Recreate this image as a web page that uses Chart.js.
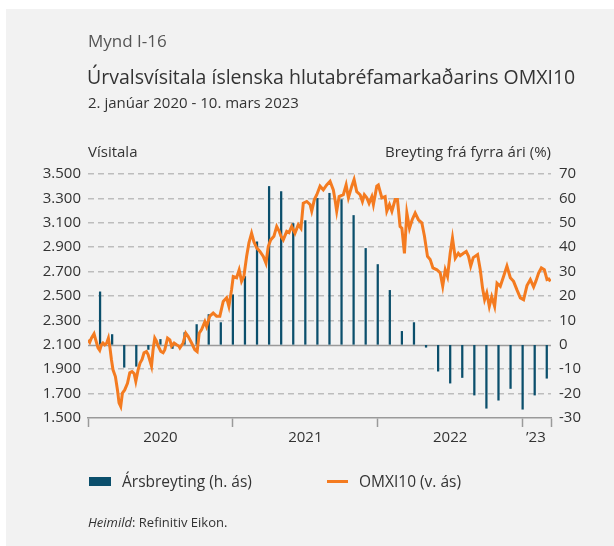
<!DOCTYPE html>
<html>
<head>
<meta charset="utf-8">
<script src="https://cdn.jsdelivr.net/npm/chart.js@4"></script>
<style>
    body { margin: 0; background: #fff; font-family: 'Open Sans', sans-serif; color: #333; }
    #wrap { position: relative; width: 614px; height: 546px; overflow: hidden; }
    #panel { position: absolute; left: 6px; top: 9px; width: 608px; height: 537px; background: #f2f2f2; }
    canvas { position: absolute; left: 0; top: 0; }
    .txt { position: absolute; white-space: nowrap; }
</style>
</head>
<body>
<div id="wrap">
    <div id="panel"></div>
    <canvas id="chart" width="614" height="546"></canvas>
    <div class="txt" style="left:88px; top:29px; font-size:17px; color:#555;">Mynd I-16</div>
    <div class="txt" style="left:87px; top:63px; font-size:19.5px; color:#333;">Úrvalsvísitala íslenska hlutabréfamarkaðarins OMXI10</div>
    <div class="txt" style="left:88px; top:92px; font-size:15px; color:#333;">2. janúar 2020 - 10. mars 2023</div>
    <div class="txt" style="left:88px; top:141px; font-size:15px; color:#333;">Vísitala</div>
    <div class="txt" style="right:63px; top:141px; font-size:15px; color:#333;">Breyting frá fyrra ári (%)</div>

    <div class="txt" style="left:89px; top:477px; width:22px; height:9px; background:#0b4f6c;"></div>
    <div class="txt" style="left:122px; top:470px; font-size:15.5px; color:#333;">Ársbreyting (h. ás)</div>
    <div class="txt" style="left:327px; top:480px; width:21px; height:3px; background:#f47b20;"></div>
    <div class="txt" style="left:359px; top:470px; font-size:15.5px; color:#333;">OMXI10 (v. ás)</div>

    <div class="txt" style="left:88px; top:513px; font-size:13px; color:#333;"><i>Heimild</i>: Refinitiv Eikon.</div>
</div>
<script>
// month-end labels for the yearly change bars (right axis, %)
var barMonths = ['2020-01','2020-02','2020-03','2020-04','2020-05','2020-06','2020-07','2020-08','2020-09','2020-10','2020-11','2020-12',
    '2021-01','2021-02','2021-03','2021-04','2021-05','2021-06','2021-07','2021-08','2021-09','2021-10','2021-11','2021-12',
    '2022-01','2022-02','2022-03','2022-04','2022-05','2022-06','2022-07','2022-08','2022-09','2022-10','2022-11','2022-12',
    '2023-01','2023-02'];
var barValues = [21.7, 4.2, -9.2, -8.8, -1.9, 2.2, -1.5, 5.0, 8.3, 12.4, 9.1, 20.5,
    28.0, 42.2, 64.9, 62.8, 49.7, 50.9, 60.0, 62.1, 59.5, 53.0, 39.5, 32.9,
    22.3, 5.5, 9.1, -1.0, -10.8, -15.7, -13.4, -20.6, -26.0, -22.7, -17.9, -26.4,
    -20.6, -13.7];

// OMXI10 index (left axis); time in months since 1 Jan 2020
var omxTime = [0.00,0.14,0.28,0.50,0.64,0.83,0.97,1.11,1.24,1.39,1.55,1.69,1.82,1.94,2.07,2.27,2.44,2.57,2.71,2.85,
    3.04,3.27,3.46,3.65,3.82,3.96,4.15,4.31,4.48,4.64,4.84,4.98,5.26,5.39,5.53,5.67,5.81,6.03,6.22,6.36,
    6.59,6.78,6.92,7.13,7.33,7.52,7.61,7.88,8.10,8.29,8.58,8.85,9.04,9.21,9.41,9.68,9.82,10.09,10.37,10.65,
    10.92,11.20,11.48,11.67,11.89,12.03,12.31,12.52,12.72,12.91,13.14,13.33,13.55,13.74,13.97,14.24,14.52,14.74,14.93,15.13,
    15.40,15.63,15.84,15.98,16.17,16.46,16.65,16.87,17.14,17.42,17.64,17.83,18.12,18.39,18.53,18.75,18.95,19.22,19.49,19.77,
    20.05,20.32,20.46,20.60,20.80,21.15,21.38,21.57,21.85,22.04,22.26,22.54,22.73,22.89,23.09,23.28,23.51,23.64,23.92,24.05,
    24.34,24.61,24.75,24.97,25.17,25.44,25.63,25.85,26.00,26.21,26.41,26.63,26.85,27.10,27.37,27.65,27.87,28.12,28.34,28.57,
    28.90,29.17,29.38,29.59,29.78,30.00,30.19,30.42,30.67,30.83,31.10,31.33,31.52,31.70,31.91,32.27,32.49,32.68,32.85,33.03,
    33.24,33.44,33.68,33.88,34.15,34.42,34.70,34.98,35.25,35.53,35.81,36.08,36.36,36.64,36.91,37.09,37.33,37.55,37.80,38.02,
    38.17,38.30];
var omxValues = [2140,2120,2155,2190,2140,2075,2055,2100,2115,2100,2115,2155,2075,1980,1895,1840,1730,1625,1595,1705,
    1730,1785,1870,1880,1865,1800,1895,1950,1980,2035,2045,2020,1925,2060,2155,2130,2090,2045,2035,2060,
    2155,2140,2090,2115,2100,2090,2075,2115,2195,2170,2115,2060,2045,2195,2225,2290,2250,2335,2360,2335,
    2335,2455,2485,2415,2550,2660,2650,2715,2620,2660,2825,2935,3015,2945,2895,2865,2825,2770,2905,2960,
    2990,3070,3030,2990,2960,3030,3020,3070,3015,3085,3055,3260,3275,3250,3195,3290,3330,3400,3370,3410,
    3440,3370,3290,3195,3315,3330,3410,3305,3400,3455,3355,3330,3275,3330,3305,3260,3315,3250,3400,3410,
    3305,3315,3195,3250,3195,3290,3290,3070,3055,2850,3180,3055,3125,3180,3125,3100,2990,2825,2800,2730,
    2715,2690,2580,2715,2660,2850,2975,2810,2850,2830,2850,2865,2825,2745,2815,2840,2715,2565,2470,2525,
    2415,2495,2415,2605,2580,2660,2745,2650,2620,2550,2485,2470,2585,2635,2575,2620,2690,2730,2715,2635,
    2640,2620];

var yearTicks = [0, 12, 24, 36, 38.35];
var yearLabels = {6: '2020', 18: '2021', 30: '2022', 37.1: '\u201923'};

var lineData = omxTime.map((t, i) => ({ x: t, y: omxValues[i] }));
var barData = barValues.map((v, i) => ({ x: i + 1, y: v }));

var zeroLine = {
    id: 'zeroLine',
    beforeDatasetsDraw(chart) {
        var ctx = chart.ctx, a = chart.chartArea;
        var y = Math.round(chart.scales.y.getPixelForValue(2100)) + 0.5;
        ctx.save();
        ctx.strokeStyle = '#9a9a9a';
        ctx.lineWidth = 1.5;
        ctx.beginPath();
        ctx.moveTo(a.left, y);
        ctx.lineTo(a.right, y);
        ctx.stroke();
        ctx.restore();
    }
};

var tickFont = { family: "'Open Sans', sans-serif", size: 15 };

new Chart(document.getElementById('chart').getContext('2d'), {
    type: 'bar',
    data: {
        datasets: [{
            type: 'line',
            label: 'OMXI10 (v. ás)',
            data: lineData,
            yAxisID: 'y',
            borderColor: '#f47b20',
            borderWidth: 3,
            pointRadius: 0,
            tension: 0
        }, {
            type: 'bar',
            label: 'Ársbreyting (h. ás)',
            data: barData,
            yAxisID: 'y2',
            backgroundColor: '#0b4f6c',
            barThickness: 1.6,
            maxBarThickness: 1.6
        }]
    },
    options: {
        responsive: false,
        animation: false,
        devicePixelRatio: 1,
        layout: { padding: { top: 174, bottom: 98, left: 0, right: 0 } },
        plugins: { legend: { display: false }, tooltip: { enabled: false } },
        scales: {
            x: {
                type: 'linear',
                offset: false,
                min: 0,
                max: 38.35,
                afterBuildTicks: (s) => {
                    var t = yearTicks.map(v => ({ value: v }));
                    Object.keys(yearLabels).forEach(k => t.push({ value: parseFloat(k) }));
                    s.ticks = t.sort((a, b) => a.value - b.value);
                },
                afterFit: (s) => { s.height = 30; },
                ticks: {
                    autoSkip: false,
                    maxRotation: 0,
                    padding: 2,
                    color: '#333',
                    font: tickFont,
                    callback: (v) => yearLabels[v] || ''
                },
                grid: {
                    offset: false,
                    drawOnChartArea: false,
                    tickLength: 9,
                    tickWidth: 1.5,
                    tickColor: (c) => (c.tick && yearTicks.indexOf(c.tick.value) >= 0) ? '#9a9a9a' : 'transparent'
                },
                border: { display: true, color: '#9a9a9a', width: 1.5 }
            },
            y: {
                position: 'left',
                min: 1500,
                max: 3500,
                afterFit: (s) => { s.width = 88; },
                ticks: {
                    stepSize: 200,
                    padding: 7,
                    color: '#333',
                    font: tickFont,
                    callback: (v) => v.toLocaleString('de-DE')
                },
                grid: {
                    drawTicks: false,
                    lineWidth: 1.5,
                    color: (c) => (!c.tick || c.tick.value === 1500 || c.tick.value === 2100) ? 'transparent' : '#bdbdbd'
                },
                border: { display: false, dash: [6, 4] }
            },
            y2: {
                position: 'right',
                min: -30,
                max: 70,
                afterFit: (s) => { s.width = 63; },
                ticks: {
                    stepSize: 10,
                    padding: 8,
                    color: '#333',
                    font: tickFont
                },
                grid: { drawOnChartArea: false, drawTicks: false },
                border: { display: false }
            }
        }
    },
    plugins: [zeroLine]
});
</script>
</body>
</html>
